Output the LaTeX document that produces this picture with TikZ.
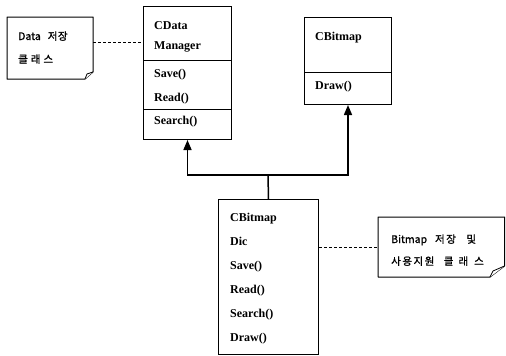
\documentclass[tikz,border=0pt]{standalone}
\usepackage{fontspec}
\setmainfont{Liberation Serif}
\newfontfamily\kr[FakeBold=1]{Noto Sans CJK KR}
\usetikzlibrary{arrows.meta}
\begin{document}
\begin{tikzpicture}[x=1pt,y=-1pt,
  cls/.style={draw,line width=1pt,inner sep=0pt,anchor=north west},
  notebox/.style={inner sep=0pt,anchor=north west},
  lbl/.style={anchor=base west,inner sep=0pt,font=\fontsize{12}{14}\selectfont\bfseries},
  ntxt/.style={anchor=base west,inner sep=0pt,font=\kr\fontsize{10.5}{12}\selectfont},
  inh/.style={line width=1.5pt,-{Triangle[length=10pt,width=8pt]}},
  lnk/.style={line width=0.9pt,dash pattern=on 3pt off 2pt},
  outline/.style={line width=1pt,line join=round,fill=white}]
\useasboundingbox (0,0) rectangle (506,356);

% class boxes
\node[cls,minimum width=88pt,minimum height=133pt] (cdm) at (143,6) {};
\node[cls,minimum width=87pt,minimum height=87pt] (cbm) at (304,17) {};
\node[cls,minimum width=100pt,minimum height=155pt] (cbd) at (218,199) {};

% compartments
\draw[line width=1pt] (143,60) -- (231,60);
\draw[line width=1pt] (143,109) -- (231,109);
\draw[line width=1pt] (304,72) -- (391,72);

% class texts
\node[lbl] (t1) at (154,29) {CData};
\node[lbl] (t2) at (154,49) {Manager};
\node[lbl] (t3) at (154,77) {Save()};
\node[lbl] (t4) at (154,101) {Read()};
\node[lbl] (t5) at (154,124) {Search()};

\node[lbl] (u1) at (315,40) {CBitmap};
\node[lbl] (u2) at (315,89) {Draw()};

\node[lbl] (v1) at (230,221) {CBitmap};
\node[lbl] (v2) at (230,245) {Dic};
\node[lbl] (v3) at (230,269) {Save()};
\node[lbl] (v4) at (230,293) {Read()};
\node[lbl] (v5) at (230,317) {Search()};
\node[lbl] (v6) at (230,341) {Draw()};

% notes
\node[notebox,minimum width=86pt,minimum height=62pt] (n1) at (7,17) {};
\draw[outline] (7,17) -- (93,17) -- (93,72) -- (85,79) -- (7,79) -- cycle;
\draw[line width=0.8pt,fill=white] (85,79) -- (87,74) -- (93,72);
\node[ntxt] (n1a) at (18,40) {Data\kern7pt 저\kern0.5pt 장};
\node[ntxt] (n1b) at (18,63) {클\kern3pt 래\kern3pt 스};

\node[notebox,minimum width=126pt,minimum height=60pt] (n2) at (378,217) {};
\draw[outline] (378,217) -- (504.5,217) -- (504.5,266) -- (490,277) -- (378,277) -- cycle;
\draw[line width=0.8pt,fill=white] (490,277) -- (493,271) -- (504.5,266);
\node[ntxt] (n2a) at (391,243) {Bitmap\kern8pt 저\kern1.5pt 장\kern10.5pt 및};
\node[ntxt] (n2b) at (391,265) {사\kern1.5pt 용\kern1.5pt 지\kern1.5pt 원\kern9.5pt 클\kern5pt 래\kern6pt 스};

% note links
\coordinate (d1) at (0,42);
\coordinate (d2) at (0,247);
\draw[lnk] (n1.east |- d1) -- (cdm.west |- d1);
\draw[lnk] (cbd.east |- d2) -- (n2.west |- d2);

% inheritance
\coordinate (j) at (268,175);
\draw[line width=1.5pt] (cbd.north) -- (j);
\draw[inh] (j) -| (cdm.south);
\draw[inh] (j) -| (cbm.south);
\end{tikzpicture}
\end{document}
